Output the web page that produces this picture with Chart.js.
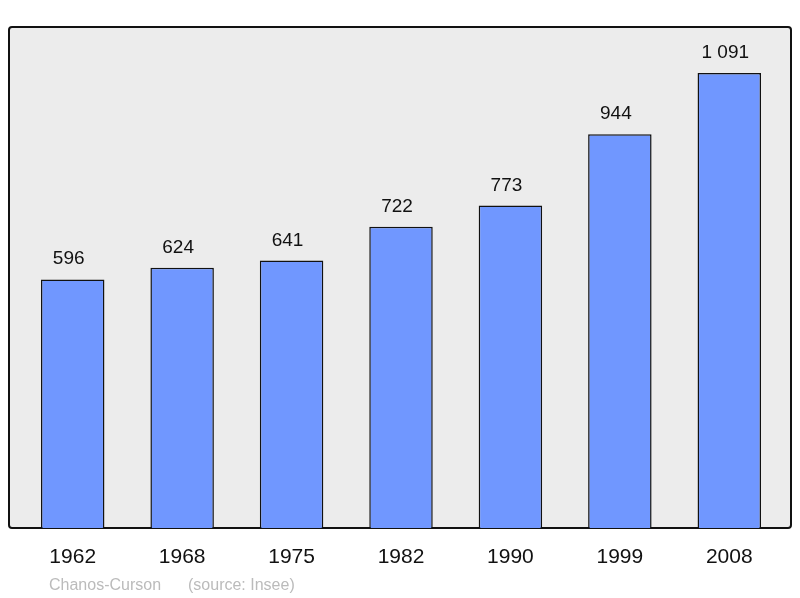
<!DOCTYPE html>
<html>
<head>
<meta charset="utf-8">
<script src="https://cdn.jsdelivr.net/npm/chart.js@4"></script>
<style>
  html, body { margin: 0; padding: 0; background: #fff; }
  #wrap { width: 800px; height: 598px; }
</style>
</head>
<body>
<div id="wrap"><canvas id="popChart"></canvas></div>
<script>
const years = ['1962', '1968', '1975', '1982', '1990', '1999', '2008'];
const population = [596, 624, 641, 722, 773, 944, 1091];
const yMax = 1201;

function fmt(v) {
    return String(v).replace(/\B(?=(\d{3})+(?!\d))/g, ' ');
}

// Grey frame behind the bars
const framePlugin = {
    id: 'frame',
    beforeDatasetsDraw(chart) {
        const { ctx, chartArea: a } = chart;
        ctx.save();
        ctx.beginPath();
        ctx.roundRect(a.left - 9, a.top, a.right - a.left + 16, a.bottom - a.top, 3);
        ctx.fillStyle = '#ececec';
        ctx.fill();
        ctx.lineWidth = 2;
        ctx.strokeStyle = '#111';
        ctx.stroke();
        ctx.restore();
    }
};

// Values above bars, year labels and the footer
const labelPlugin = {
    id: 'labels',
    afterDatasetsDraw(chart) {
        const { ctx, chartArea: a } = chart;
        const x = chart.scales.x, y = chart.scales.y;
        ctx.save();
        ctx.fillStyle = '#111';
        ctx.textAlign = 'center';
        ctx.textBaseline = 'alphabetic';
        ctx.font = '19px "Liberation Sans", Arial, sans-serif';
        population.forEach((v, i) => {
            ctx.fillText(fmt(v), x.getPixelForValue(i) - 4, y.getPixelForValue(v) - 15);
        });
        ctx.font = '21px "Liberation Sans", Arial, sans-serif';
        years.forEach((yr, i) => {
            ctx.fillText(yr, x.getPixelForValue(i), a.bottom + 35);
        });
        ctx.textAlign = 'left';
        ctx.fillStyle = '#bbb';
        ctx.font = '16px "Liberation Sans", Arial, sans-serif';
        ctx.fillText('Chanos-Curson', 49, a.bottom + 62);
        ctx.fillText('(source: Insee)', 188, a.bottom + 62);
        ctx.restore();
    }
};

new Chart(document.getElementById('popChart').getContext('2d'), {
    type: 'bar',
    data: {
        labels: years,
        datasets: [{
            data: population,
            backgroundColor: '#7097ff',
            borderColor: '#111',
            borderWidth: 1.5,
            barPercentage: 0.58,
            categoryPercentage: 1
        }]
    },
    options: {
        responsive: true,
        maintainAspectRatio: false,
        animation: false,
        layout: { padding: { left: 18, right: 16, top: 27, bottom: 70 } },
        plugins: { legend: { display: false }, tooltip: { enabled: false } },
        scales: {
            x: { display: false },
            y: { display: false, min: 0, max: yMax }
        }
    },
    plugins: [framePlugin, labelPlugin]
});
</script>
</body>
</html>
